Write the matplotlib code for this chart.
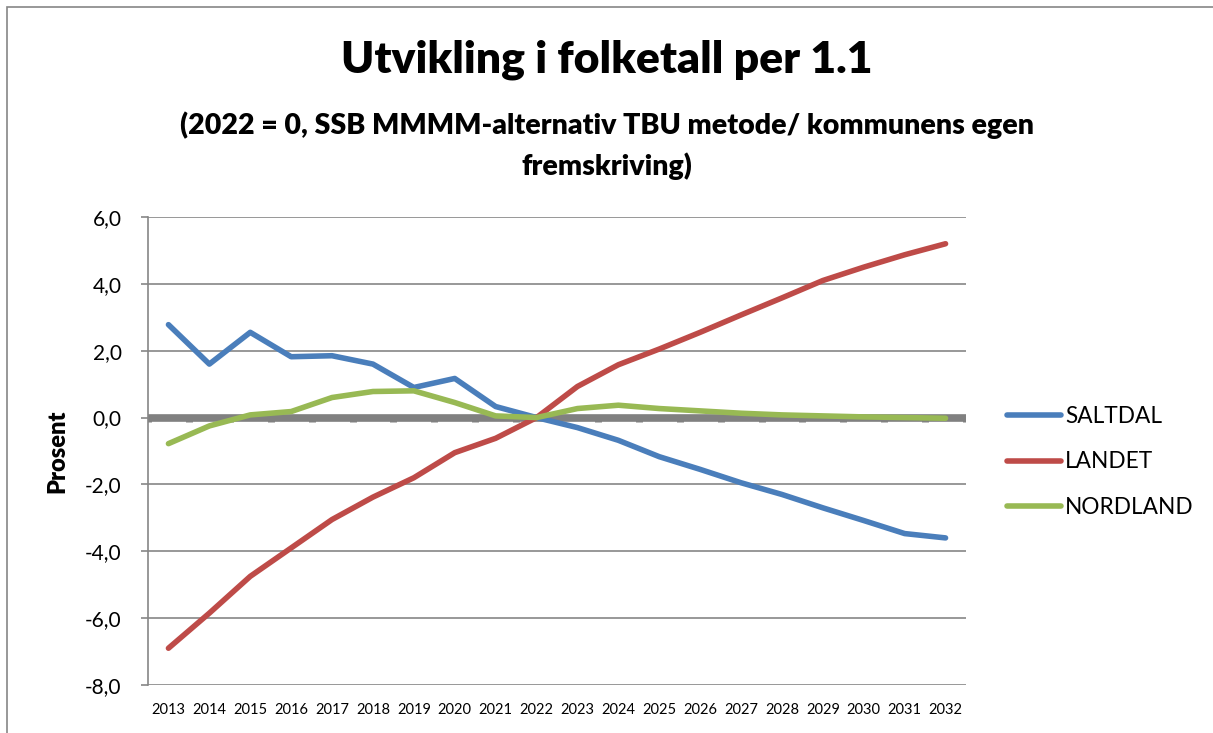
import matplotlib
matplotlib.use("Agg")
import matplotlib.pyplot as plt
from matplotlib.patches import Rectangle

years = [str(y) for y in range(2013, 2033)]
saltdal = [2.78, 1.6, 2.55, 1.82, 1.85, 1.6, 0.9, 1.17, 0.33, 0.0,
           -0.3, -0.68, -1.17, -1.55, -1.95, -2.3, -2.7, -3.08, -3.47, -3.6]
landet = [-6.9, -5.85, -4.75, -3.9, -3.05, -2.38, -1.8, -1.05, -0.62, 0.0,
          0.93, 1.58, 2.05, 2.55, 3.07, 3.58, 4.1, 4.5, 4.87, 5.2]
nordland = [-0.78, -0.25, 0.08, 0.18, 0.6, 0.78, 0.8, 0.45, 0.05, 0.0,
            0.27, 0.37, 0.27, 0.2, 0.13, 0.08, 0.05, 0.02, 0.0, -0.02]
yticks = [6, 4, 2, 0, -2, -4, -6, -8]

plt.rcParams['font.family'] = ['Lato', 'DejaVu Sans']

fig = plt.figure(figsize=(12.13, 7.33), dpi=100)
fig.patches.append(Rectangle((7/1213, -0.1), 1.2, (733-7)/733 + 0.1, transform=fig.transFigure,
                             fill=False, edgecolor='#868686', linewidth=1.2))
ax = fig.add_axes([148/1213, (733-685)/733, (966-148)/1213, (685-217)/733])

x = list(range(len(years)))
grid_c = '#868686'
for t in yticks:
    if t != 0:
        ax.axhline(t, color=grid_c, lw=1.2, zorder=1)
# zero axis line
ax.axhline(0, color='#808080', lw=5.5, zorder=2)
# tick marks on zero axis at category boundaries
for b in [i - 0.5 for i in range(len(years) + 1)]:
    ax.plot([b, b], [0, -0.13], color='#808080', lw=5, zorder=2, solid_capstyle='butt')

ax.plot(x, saltdal, color='#4a7ebb', lw=4, label='SALTDAL', zorder=3, solid_capstyle='round')
ax.plot(x, landet, color='#be4b48', lw=4, label='LANDET', zorder=3, solid_capstyle='round')
ax.plot(x, nordland, color='#98b954', lw=4, label='NORDLAND', zorder=4, solid_capstyle='round')

ax.set_xlim(-0.5, len(years) - 0.5)
ax.set_ylim(-8, 6)
ax.set_yticks(yticks)
ax.set_yticklabels([f"{t:.1f}".replace('.', ',') for t in yticks], fontsize=15)
ax.set_xticks(x)
ax.set_xticklabels(years, fontsize=10.5)
ax.tick_params(axis='x', length=0, pad=13)
ax.tick_params(axis='y', length=5, color=grid_c, width=1.2, pad=14)
for s in ['top', 'right', 'bottom']:
    ax.spines[s].set_visible(False)
ax.spines['left'].set_color(grid_c)
ax.spines['left'].set_linewidth(1.2)
ax.set_ylabel('Prosent', fontsize=17, fontweight='heavy', labelpad=12)

fig.text(0.5, 1 - 60/733, 'Utvikling i folketall per 1.1', ha='center', va='center',
         fontsize=32, fontweight='heavy')
fig.text(0.5, 1 - 146/733, '(2022 = 0, SSB MMMM-alternativ TBU metode/ kommunens egen\nfremskriving)',
         ha='center', va='center', fontsize=20.5, fontweight='heavy', linespacing=1.6)

ax.legend(loc='center left', bbox_to_anchor=(987/1213, 1 - 462/733), bbox_transform=fig.transFigure,
          frameon=False, fontsize=16.3, handlelength=2.35, labelspacing=1.1, handletextpad=0.2)

fig.savefig('out.png', dpi=100)
